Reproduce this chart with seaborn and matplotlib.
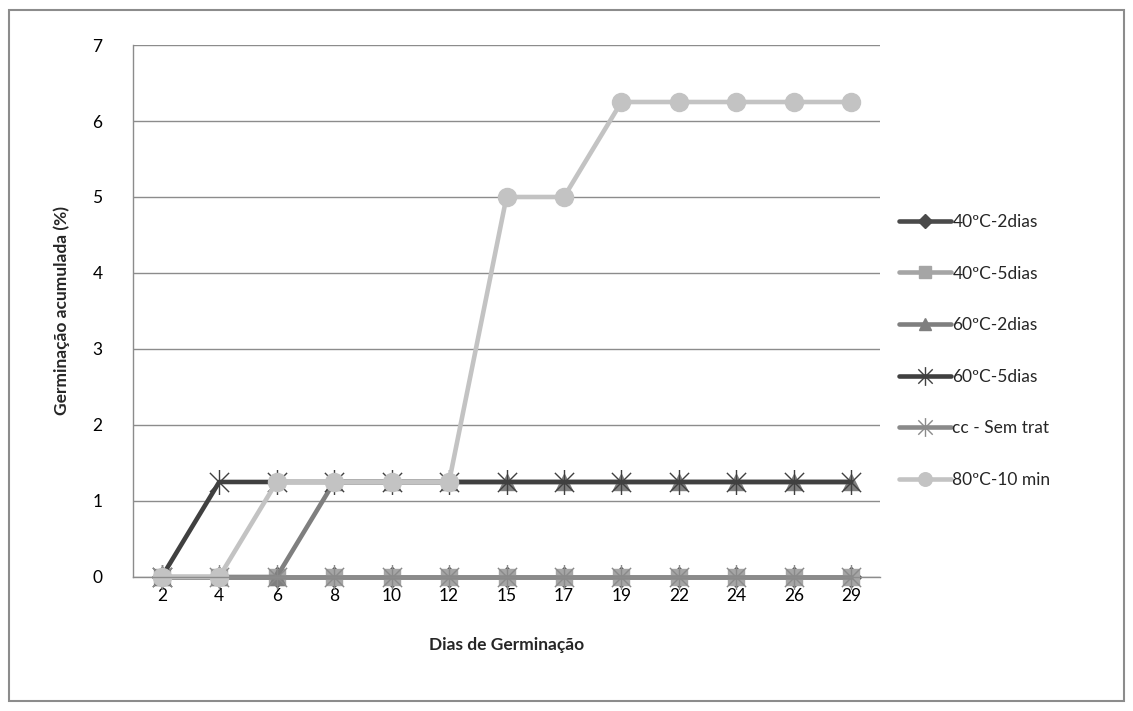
import numpy as np
import pandas as pd
import matplotlib
matplotlib.use("Agg")
import matplotlib.pyplot as plt
from matplotlib.path import Path
from matplotlib.patches import Rectangle
import seaborn as sns

# dados
dias = ["2", "4", "6", "8", "10", "12", "15", "17", "19", "22", "24", "26", "29"]
s_40_2 = [0, 0, 0, 0, 0, 0, 0, 0, 0, 0, 0, 0, 0]
s_40_5 = [0, 0, 0, 0, 0, 0, 0, 0, 0, 0, 0, 0, 0]
s_60_2 = [0, 0, 0, 1.25, 1.25, 1.25, 1.25, 1.25, 1.25, 1.25, 1.25, 1.25, 1.25]
s_60_5 = [0, 1.25, 1.25, 1.25, 1.25, 1.25, 1.25, 1.25, 1.25, 1.25, 1.25, 1.25, 1.25]
s_cc = [0, 0, 0, 0, 0, 0, 0, 0, 0, 0, 0, 0, 0]
s_80 = [0, 0, 1.25, 1.25, 1.25, 1.25, 5, 5, 6.25, 6.25, 6.25, 6.25, 6.25]
nomes = ["40ºC-2dias", "40ºC-5dias", "60ºC-2dias", "60ºC-5dias", "cc - Sem trat", "80ºC-10 min"]

sns.set_style("white")
plt.rcParams['font.family'] = ['Lato', 'DejaVu Sans']

# estrela estilo Excel (X + linha vertical)
star = Path([(-1, -1), (1, 1), (-1, 1), (1, -1), (0, -1.3), (0, 1.3)],
            [Path.MOVETO, Path.LINETO, Path.MOVETO, Path.LINETO, Path.MOVETO, Path.LINETO])

estilos = {
    "40ºC-2dias": dict(color="#4a4a4a", marker="D", ms=10),
    "40ºC-5dias": dict(color="#a5a5a5", marker="s", ms=11),
    "60ºC-2dias": dict(color="#7f7f7f", marker="^", ms=12),
    "60ºC-5dias": dict(color="#404040", marker=star, ms=18),
    "cc - Sem trat": dict(color="#8a8a8a", marker=star, ms=18),
    "80ºC-10 min": dict(color="#c3c3c3", marker="o", ms=13),
}

series = [s_40_2, s_40_5, s_60_2, s_60_5, s_cc, s_80]
x = np.arange(len(dias))
df = pd.concat([pd.DataFrame({"x": x, "y": v, "serie": n}) for n, v in zip(nomes, series)])

fig = plt.figure(figsize=(11.33, 7.11), dpi=100)
ax = fig.add_axes([0.1174, 0.1885, 0.6593, 0.7482])

for n in nomes:
    st = estilos[n]
    sns.lineplot(data=df[df.serie == n], x="x", y="y", ax=ax, color=st["color"],
                 linewidth=3.3, marker=st["marker"], markersize=st["ms"],
                 markeredgecolor=st["color"], markerfacecolor=st["color"],
                 markeredgewidth=1.0, label=n, clip_on=False)

ax.set_xlim(-0.5, len(dias) - 0.5)
ax.set_ylim(0, 7)
ax.set_xticks(x)
ax.set_xticklabels(dias)
ax.set_yticks(range(0, 8))
ax.tick_params(axis="both", labelsize=12.5, length=0, colors="#000000")
ax.tick_params(axis="y", pad=22)
ax.tick_params(axis="x", pad=8)
ax.yaxis.grid(True, color="#8c8c8c", linewidth=1)
ax.xaxis.grid(False)
for s in ["top", "right"]:
    ax.spines[s].set_visible(False)
for s in ["left", "bottom"]:
    ax.spines[s].set_color("#8c8c8c")
    ax.spines[s].set_linewidth(1)

ax.set_xlabel("Dias de Germinação", fontsize=12.5, fontweight="bold", labelpad=24)
ax.set_ylabel("Germinação acumulada (%)", fontsize=12.5, fontweight="bold", labelpad=16)

leg = ax.legend(loc="center left", bbox_to_anchor=(1.005, 0.425), frameon=False,
                fontsize=12.5, handlelength=3.0, labelspacing=2.05, handletextpad=0.05)
for h in leg.legend_handles:
    h.set_markersize(h.get_markersize() * 0.75)

fig.patches.append(Rectangle((0.008, 0.014), 0.984, 0.972, transform=fig.transFigure,
                             fill=False, edgecolor="#8c8c8c", linewidth=1.5))

fig.savefig("out.png", dpi=100)
